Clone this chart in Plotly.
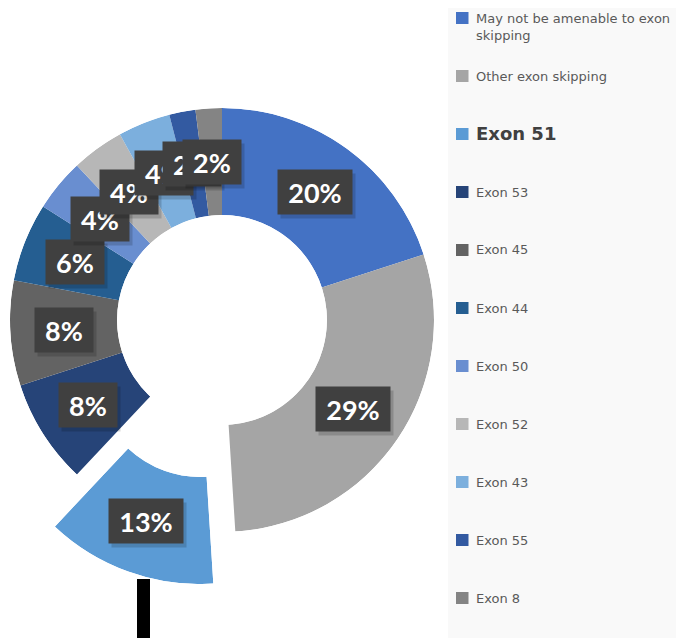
import math
import plotly.graph_objects as go

labels = ["May not be amenable to exon skipping", "Other exon skipping", "Exon 51", "Exon 53",
          "Exon 45", "Exon 44", "Exon 50", "Exon 52", "Exon 43", "Exon 55", "Exon 8"]
shares = [20, 29, 13, 8, 8, 6, 4, 4, 4, 2, 2]
colors = ["#4472C4", "#A5A5A5", "#5B9BD5", "#264478", "#636363", "#255E91",
          "#698ED0", "#B7B7B7", "#7CAFDD", "#335AA1", "#848484"]
legend_text = ["May not be amenable to exon<br>skipping", "Other exon skipping", "Exon 51", "Exon 53",
               "Exon 45", "Exon 44", "Exon 50", "Exon 52", "Exon 43", "Exon 55", "Exon 8"]
pulled = "Exon 51"

OFF = 8                            # page body margin
W, H = 684 - OFF, 638 - OFF
CX, CY, R = 222, 320, 212          # donut centre and outer radius (window px)
HOLE = 0.495
SHIFT = (-22, 52)                  # offset of the exploded slice (px)


def px2paper(x, y):
    return (x - OFF) / W, 1 - (y - OFF) / H


# slice angles, degrees clockwise from 12 o'clock
total = sum(shares)
starts, widths = [], []
acc = 0
for s in shares:
    starts.append(acc * 360 / total)
    widths.append(s * 360 / total)
    acc += s
mids = [a + w / 2 for a, w in zip(starts, widths)]
ip = labels.index(pulled)

fig = go.Figure()

main_idx = [i for i in range(len(labels)) if i != ip]
fig.add_trace(go.Barpolar(
    r=[1] * len(main_idx), base=[0] * len(main_idx),
    theta=[mids[i] for i in main_idx], width=[widths[i] for i in main_idx],
    marker=dict(color=[colors[i] for i in main_idx], line=dict(width=0)),
    text=[labels[i] for i in main_idx], hoverinfo="text", subplot="polar", showlegend=False))
fig.add_trace(go.Barpolar(
    r=[1], base=[0], theta=[mids[ip]], width=[widths[ip]],
    marker=dict(color=[colors[ip]], line=dict(width=0)),
    text=[labels[ip]], hoverinfo="text", subplot="polar2", showlegend=False))

# sector of exploded slice, screen angles counter-clockwise from east
sec = [90 - (starts[ip] + widths[ip]), 90 - starts[ip]]
xs, ys = [0.0], [0.0]
n = 400
for k in range(n + 1):
    a = math.radians(sec[0] + (sec[1] - sec[0]) * k / n)
    xs.append(math.cos(a))
    ys.append(math.sin(a))
bx0, bx1, by0, by1 = min(xs), max(xs), min(ys), max(ys)
PCX, PCY = CX + SHIFT[0], CY + SHIFT[1]

ax_off = dict(visible=False, showgrid=False, showline=False, showticklabels=False, ticks="")
polar_common = dict(hole=HOLE, bgcolor="rgba(0,0,0,0)", bargap=0,
                    radialaxis=dict(range=[0, 1], **ax_off),
                    angularaxis=dict(rotation=90, direction="clockwise", **ax_off))
mx0, my0 = px2paper(CX - R, CY + R)
mx1, my1 = px2paper(CX + R, CY - R)
px0, py0 = px2paper(PCX + R * bx0, PCY - R * by0)
px1, py1 = px2paper(PCX + R * bx1, PCY - R * by1)
fig.update_layout(
    polar=dict(domain=dict(x=[mx0, mx1], y=[my0, my1]), **polar_common),
    polar2=dict(domain=dict(x=[px0, px1], y=[py0, py1]), sector=sec, **polar_common),
)

annotations = []
shapes = []

# data labels at the middle of each ring segment
rl = R * (1 + HOLE) / 2
for i, s in enumerate(shares):
    cx, cy = (PCX, PCY) if i == ip else (CX, CY)
    m = math.radians(mids[i])
    x, y = px2paper(cx + rl * math.sin(m), cy - rl * math.cos(m))
    txt = f"{s}%"
    w = 66 if len(txt) > 2 else 50
    box = dict(x=x, y=y, xref="paper", yref="paper", showarrow=False,
               xanchor="center", yanchor="middle", width=w, height=36, borderpad=4)
    annotations.append(dict(box, text="", bgcolor="rgba(0,0,0,0.16)", xshift=3, yshift=-4))
    annotations.append(dict(box, text=f"<b>{txt}</b>", bgcolor="#404040",
                            font=dict(family="Lato", size=27, color="white")))

# legend panel
lx0, ly0 = px2paper(448, 3)
shapes.append(dict(type="rect", xref="paper", yref="paper", x0=lx0, x1=1, y0=0, y1=min(ly0, 1),
                   fillcolor="#F9F9F9", line=dict(width=0), layer="below"))
for i, lab in enumerate(legend_text):
    yc = 18 + 58 * i
    x0, y0 = px2paper(456, yc - 6)
    x1, y1 = px2paper(468.5, yc + 6)
    shapes.append(dict(type="rect", xref="paper", yref="paper", x0=x0, x1=x1, y0=y1, y1=y0,
                       fillcolor=colors[i], line=dict(width=0)))
    big = labels[i] == pulled
    two = "<br>" in lab
    tx, ty = px2paper(474, yc - 9 if two else yc)
    annotations.append(dict(
        x=tx, y=ty, xref="paper", yref="paper", showarrow=False, xanchor="left",
        yanchor="top" if two else "middle", align="left",
        text=f"<b>{lab}</b>" if big else lab,
        font=dict(family="DejaVu Sans", size=18 if big else 13, color="#404040" if big else "#595959")))

# stray slide elements
bx_0, by_0 = px2paper(137, 579)
bx_1, by_1 = px2paper(150, 640)
shapes.append(dict(type="rect", xref="paper", yref="paper", x0=bx_0, x1=bx_1, y0=by_1, y1=by_0,
                   fillcolor="black", line=dict(width=0)))
p = [px2paper(*q) for q in [(685, 572), (679, 600), (677, 640)]]
shapes.append(dict(type="path", xref="paper", yref="paper",
                   path=f"M {p[0][0]} {p[0][1]} Q {p[1][0]} {p[1][1]} {p[2][0]} {p[2][1]}",
                   line=dict(color="#7A9FE0", width=1.5)))

fig.update_layout(
    width=W, height=H, margin=dict(l=0, r=0, t=0, b=0),
    paper_bgcolor="white", plot_bgcolor="white",
    showlegend=False, annotations=annotations, shapes=shapes,
)

fig.write_html("out.html")
